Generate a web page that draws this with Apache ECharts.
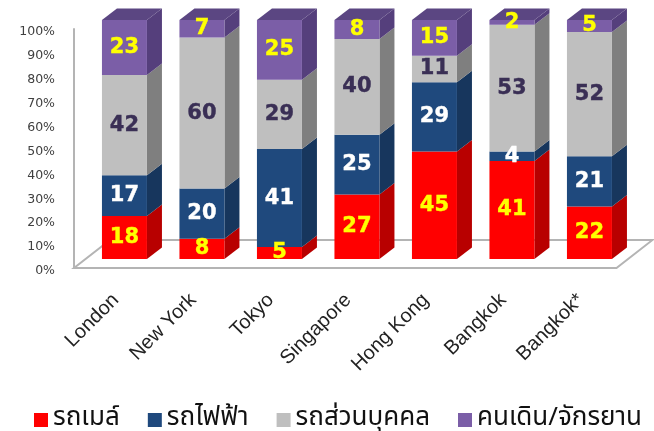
<!DOCTYPE html>
<html>
<head>
<meta charset="utf-8">
<style>
  html, body { margin: 0; padding: 0; background: #fff; }
  #chart { width: 654px; height: 431px; }
</style>
<script src="https://cdn.jsdelivr.net/npm/echarts@6/dist/echarts.min.js"></script>
</head>
<body>
<div id="chart"></div>
<script>
  const cities = ['London', 'New York', 'Tokyo', 'Singapore', 'Hong Kong', 'Bangkok', 'Bangkok*'];
  const bus = [18, 8, 5, 27, 45, 41, 22];
  const rail = [17, 20, 41, 25, 29, 4, 21];
  const car = [42, 60, 29, 40, 11, 53, 52];
  const walk = [23, 7, 25, 8, 15, 2, 5];
  const names = ['รถเมล์', 'รถไฟฟ้า', 'รถส่วนบุคคล', 'คนเดิน/จักรยาน'];
  const yTicks = [0, 10, 20, 30, 40, 50, 60, 70, 80, 90, 100];

  const groups = [bus, rail, car, walk];
  const front = ['#ff0000', '#1f497d', '#bfbfbf', '#7b5ea7'];
  const side = ['#b80000', '#17365d', '#7f7f7f', '#553f7c'];
  const labelColor = ['#ffff00', '#ffffff', '#3a2f55', '#ffff00'];

  // ตำแหน่งแท่งเทียบกับแกน (มุมมอง 3 มิติ)
  const shiftX = 8.7, shiftY = -9;
  const depthX = 15, depthY = -11.5;
  const floorX = 36, floorY = -28;

  function segmentRender(s) {
    return function (params, api) {
      const i = api.value(0);
      const start = api.coord([i, api.value(1)]);
      const end = api.coord([i, api.value(2)]);
      const w = 45;
      const x0 = start[0] + shiftX - w / 2;
      const x1 = x0 + w;
      const y0 = start[1] + shiftY;
      const y1 = end[1] + shiftY;
      const children = [
        {
          type: 'polygon',
          shape: { points: [[x1, y0], [x1 + depthX, y0 + depthY], [x1 + depthX, y1 + depthY], [x1, y1]] },
          style: { fill: side[s] }
        },
        {
          type: 'rect',
          shape: { x: x0, y: y1, width: w, height: y0 - y1 },
          style: { fill: front[s] }
        }
      ];
      if (s === groups.length - 1) {
        children.push({
          type: 'polygon',
          shape: { points: [[x0, y1], [x0 + depthX, y1 + depthY], [x1 + depthX, y1 + depthY], [x1, y1]] },
          style: { fill: '#5b4682' }
        });
      }
      children.push({
        type: 'text',
        z2: 10,
        style: {
          x: (x0 + x1) / 2,
          y: (y0 + y1) / 2,
          text: String(api.value(3)),
          fill: labelColor[s],
          stroke: labelColor[s],
          lineWidth: 0.4,
          fontFamily: '"DejaVu Sans"',
          fontWeight: 'bold',
          fontSize: 21,
          align: 'center',
          verticalAlign: 'middle'
        }
      });
      return { type: 'group', children: children };
    };
  }

  function floorRender(params, api) {
    const a = api.coord([0, 0]);
    const b = api.coord([cities.length - 1, 0]);
    const band = api.size([1, 0])[0];
    const left = a[0] - band / 2 - 3;
    const right = b[0] + band / 2 - 3;
    const y = a[1];
    return {
      type: 'polygon',
      shape: { points: [[left, y], [right, y], [right + floorX, y + floorY], [left + floorX, y + floorY]] },
      style: { fill: '#ffffff', stroke: '#b4b4b4', lineWidth: 2 }
    };
  }

  const series = [{
    type: 'custom',
    silent: true,
    renderItem: floorRender,
    data: [[0]],
    encode: { x: 0 }
  }];

  groups.forEach(function (values, s) {
    const rows = values.map(function (v, i) {
      let total = 0, before = 0;
      groups.forEach(function (g, k) {
        total += g[i];
        if (k < s) before += g[i];
      });
      return [i, before / total * 100, (before + v) / total * 100, v];
    });
    series.push({
      name: names[s],
      type: 'custom',
      renderItem: segmentRender(s),
      itemStyle: { color: front[s] },
      encode: { x: 0, y: [1, 2] },
      data: rows
    });
  });

  const chartObj = echarts.init(document.getElementById('chart'));
  chartObj.setOption({
    animation: false,
    backgroundColor: '#ffffff',
    grid: { left: 77, right: 34.5, top: 29, bottom: 163 },
    legend: {
      data: names,
      left: 29,
      top: 402,
      icon: 'rect',
      itemWidth: 14,
      itemHeight: 14,
      itemGap: 28,
      selectedMode: false,
      textStyle: { fontSize: 26, color: '#111111', fontFamily: '"Noto Sans Thai", "Noto Sans", sans-serif' }
    },
    xAxis: {
      type: 'category',
      data: cities,
      axisLine: { show: false },
      axisTick: { show: false },
      axisLabel: {
        rotate: 45,
        margin: 29,
        interval: 0,
        fontSize: 20,
        color: '#222222',
        fontFamily: '"Liberation Sans"'
      }
    },
    yAxis: {
      type: 'value',
      min: yTicks[0],
      max: yTicks[yTicks.length - 1],
      interval: 10,
      offset: 3,
      splitLine: { show: false },
      axisTick: { show: false },
      axisLine: { show: true, lineStyle: { color: '#b4b4b4', width: 2 } },
      axisLabel: {
        margin: 19,
        fontSize: 12.5,
        color: '#404040',
        fontFamily: '"DejaVu Sans"',
        verticalAlign: 'top',
        lineHeight: 6,
        formatter: '{value}%'
      }
    },
    series: series
  });
</script>
</body>
</html>
